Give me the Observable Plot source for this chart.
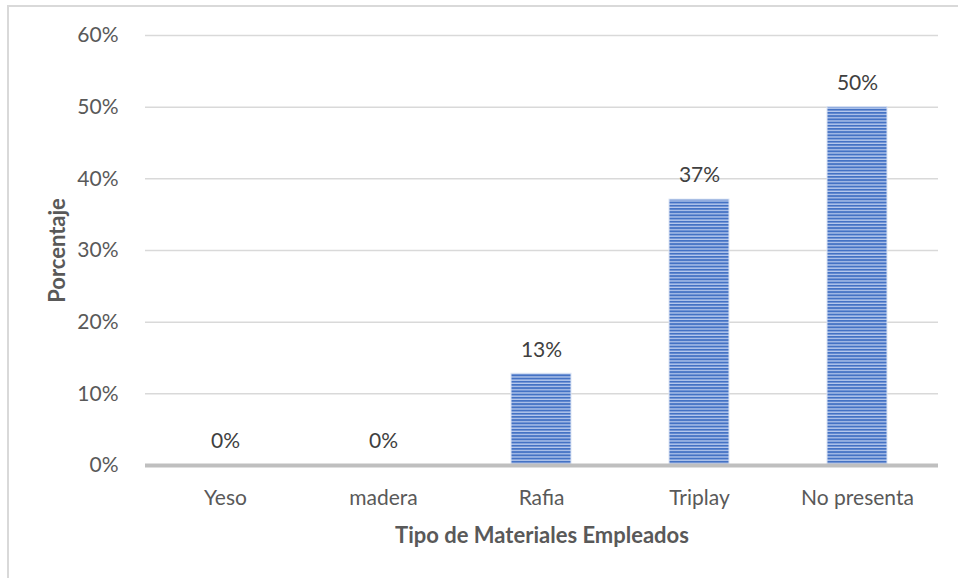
<!DOCTYPE html>
<html><head><meta charset="utf-8">
<script src="https://cdn.jsdelivr.net/npm/d3@7"></script>
<script src="https://cdn.jsdelivr.net/npm/@observablehq/plot@0.6"></script>
<style>
body{margin:0;background:#fff;}
#wrap{position:relative;width:958px;height:578px;overflow:hidden;}
#frame{position:absolute;left:7px;top:5px;width:1000px;height:1000px;border:2px solid #d9d9d9;box-sizing:border-box;}
#chart{position:absolute;left:0;top:0;}
</style></head>
<body><div id="wrap"><div id="frame"></div><div id="chart"></div></div>
<script>
const categories = ["Yeso","madera","Rafia","Triplay","No presenta"];
const values = [0, 0, 0.128, 0.371, 0.50];
const labels = ["0%","0%","13%","37%","50%"];
const yTicks = [0,0.1,0.2,0.3,0.4,0.5,0.6];

const data = categories.map((c,i)=>({cat:c, v:values[i], label:labels[i]}));
const font = "Lato, 'Open Sans', sans-serif";

const plot = Plot.plot({
  width: 958, height: 578,
  marginLeft: 145, marginRight: 20, marginTop: 35, marginBottom: 113,
  style: {fontFamily: font, fontSize: "21px", color: "#595959", background: "transparent"},
  x: {domain: categories, paddingInner: 0.62, paddingOuter: 0.31, label: null, tickSize: 0, tickPadding: 25},
  y: {domain: [0,0.6], ticks: yTicks, tickFormat: d=>Math.round(d*100)+"%", label: null, tickSize: 0, tickPadding: 27},
  marks: [
    Plot.gridY(yTicks, {stroke: "#d9d9d9", strokeOpacity: 1, strokeWidth: 1.5}),
    Plot.barY(data, {x: "cat", y: "v", fill: "url(#stripes)", stroke: "#dbe4f4", strokeWidth: 1}),
    Plot.ruleY([0], {stroke: "#bfbfbf", strokeWidth: 4}),
    Plot.text(data, {x: "cat", y: "v", text: "label", dy: -24, fill: "#404040", fontSize: 21}),
    Plot.text(["Tipo de Materiales Empleados"], {frameAnchor: "bottom", dy: 77, fontWeight: "bold", fontSize: 22, fill: "#595959"}),
    Plot.text(["Porcentaje"], {frameAnchor: "left", textAnchor: "middle", dx: -88, rotate: -90, fontWeight: "bold", fontSize: 22, fill: "#595959"})
  ]
});
const svg = d3.select(plot);
const defs = svg.insert("defs", ":first-child");
const pat = defs.append("pattern").attr("id","stripes").attr("patternUnits","userSpaceOnUse").attr("width",10).attr("height",3.2);
pat.append("rect").attr("width",10).attr("height",3.2).attr("fill","#b9cbee");
pat.append("rect").attr("width",10).attr("height",1.9).attr("fill","#4472c4");
document.getElementById("chart").appendChild(plot);
</script></body></html>
